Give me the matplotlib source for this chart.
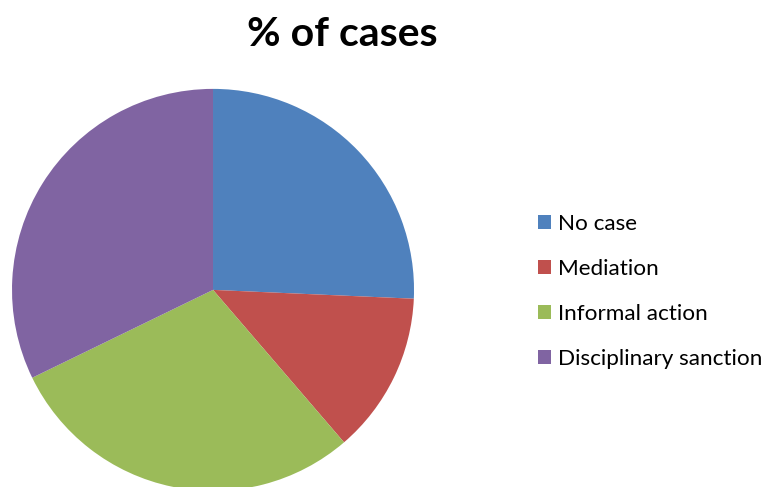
import matplotlib.pyplot as plt
from matplotlib.patches import Patch

# --- data ---
labels = ["No case", "Mediation", "Informal action", "Disciplinary sanction"]
shares = [25.7, 13.0, 29.1, 32.2]
colors = ["#4F81BD", "#C0504D", "#9BBB59", "#8064A2"]

plt.rcParams['font.family'] = ['Lato', 'DejaVu Sans']

fig = plt.figure(figsize=(7.65, 4.87), dpi=100)

# pie axes: centre ~ (213, 290) px, radius ~201 px
ax = fig.add_axes([0.0157, -0.008, 0.5255, 0.8255])
ax.pie(shares, colors=colors, startangle=90, counterclock=False, radius=1.0,
       wedgeprops=dict(linewidth=0))
ax.set_xlim(-1, 1)
ax.set_ylim(-1, 1)
ax.set_aspect('equal')
ax.axis('off')

fig.text(0.448, 0.93, "% of cases", ha='center', va='center',
         fontsize=29.5, fontweight='bold')

handles = [Patch(facecolor=c, edgecolor='none') for c in colors]
fig.legend(handles, labels, loc='center left', bbox_to_anchor=(0.703, 0.402),
           frameon=False, fontsize=16.2, handlelength=0.58, handleheight=0.58,
           handletextpad=0.32, labelspacing=1.11, borderpad=0, borderaxespad=0)

fig.savefig("out.png", dpi=100)
